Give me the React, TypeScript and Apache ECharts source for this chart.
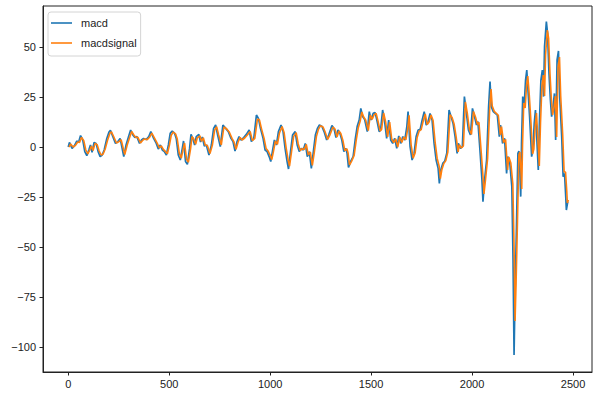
import React, { useEffect, useRef } from "react";
import * as echarts from "echarts";

const xTicks = [0, 500, 1000, 1500, 2000, 2500];
const yTicks = [-100, -75, -50, -25, 0, 25, 50];
const seriesNames = ["macd", "macdsignal"];

const macd: [number, number][] = [
  [0,0],[6,2.3],[19,-0.7],[31,0.7],[42,3],[51,2.3],[61,5.7],[72,3.5],[82,-2.3],[92,-4.3],
  [102,-1.5],[110,1],[118,-2.7],[128,2.3],[138,1.8],[148,-2.3],[158,-4.8],[168,-4],[178,-1.5],[191,4.3],
  [201,7.3],[209,8.3],[221,5.2],[234,1.8],[246,2.7],[257,4.3],[267,-0.7],[275,-4.8],[287,1.3],[299,5.2],
  [309,8.5],[320,6],[330,4.7],[340,5.2],[353,1.8],[363,3.5],[373,4.3],[386,3.7],[399,5.2],[409,7.7],
  [423,4.3],[436,1.8],[446,-1],[456,1],[466,-1.5],[476,-2.3],[486,-4],[496,1],[505,6.8],[515,8],
  [527,6.8],[535,4.3],[545,-4],[555,-6.5],[565,-0.7],[571,3],[581,-7.3],[590,-8.7],[601,-0.7],[608,6.3],
  [617,4.3],[626,1],[634,5.2],[647,6.3],[655,2.5],[664,5],[674,0.5],[684,1],[697,-4],[709,1],
  [720,9.3],[730,11],[740,6],[753,0.2],[766,11],[780,9.3],[793,7.7],[806,4.3],[816,2.7],[826,-2],
  [836,2.7],[846,5.2],[856,3.5],[869,4.7],[882,6.3],[896,8.5],[907,2.7],[919,4.3],[932,16],[942,14.3],
  [952,9.3],[965,4.3],[975,-1.5],[985,-2.3],[995,-4.8],[1003,-7.3],[1011,-2.3],[1021,3.5],[1031,1],[1041,7.7],
  [1054,11],[1064,7.7],[1074,-0.7],[1084,-7.3],[1091,-11],[1101,-2.3],[1111,6],[1124,7.7],[1134,1],[1144,-2.3],
  [1154,-0.7],[1164,-1.5],[1174,1.8],[1184,-4.8],[1194,-2.3],[1204,-10.7],[1214,-2.3],[1224,6],[1234,9.3],[1244,11],
  [1257,10.2],[1267,7.7],[1280,3.5],[1290,6],[1306,10.7],[1316,9.3],[1326,4.7],[1336,8.5],[1345,7],[1355,3.5],
  [1365,-2.3],[1375,-0.7],[1381,-3.2],[1388,-10.2],[1398,-7.3],[1411,-4.8],[1421,3.5],[1431,10.2],[1441,13.5],[1449,19.3],
  [1458,15.2],[1468,13.8],[1481,7.7],[1491,17.7],[1500,13.5],[1510,16.8],[1520,17.2],[1530,12.7],[1540,7.7],[1547,8.5],
  [1557,18.5],[1567,12.7],[1577,4.3],[1587,13.5],[1597,3.5],[1607,1.8],[1617,4.3],[1627,-0.7],[1637,5.5],[1647,1.8],
  [1657,5.2],[1667,3.5],[1677,10.2],[1683,17.7],[1693,0.2],[1703,-6.5],[1713,-3.2],[1723,5.2],[1733,8.5],[1743,8.8],
  [1753,13.5],[1763,17.7],[1773,11],[1782,12.7],[1792,16.8],[1802,13.5],[1812,1.8],[1822,-6.5],[1832,-10.7],[1838,-18.2],
  [1845,-11.5],[1855,-8.2],[1865,-7],[1875,-3],[1886,18.5],[1896,15.2],[1906,11.8],[1916,5.2],[1926,-3.2],[1932,1.8],
  [1942,-0.7],[1952,0.2],[1962,25.2],[1972,16.8],[1982,8.5],[1992,6],[2002,19.3],[2012,15.2],[2022,11],[2029,12.7],
  [2039,-1.5],[2049,-16.5],[2054,-27.3],[2062,-16.5],[2072,-6.5],[2082,20.2],[2089,32.7],[2095,20.2],[2105,17.7],[2115,16.8],
  [2125,16],[2135,5.2],[2141,11],[2151,1.8],[2161,4.3],[2171,-13.2],[2177,-4.8],[2187,-8.2],[2197,-19.8],[2203,-56.5],
  [2208,-104],[2213,-73],[2220,-39.8],[2227,-3.2],[2232,-2],[2236,-10],[2241,-24.8],[2245,1.8],[2251,25.2],[2258,20.2],
  [2265,33.5],[2271,38.5],[2278,26.8],[2285,15.2],[2295,-4.8],[2301,-1.5],[2308,11.8],[2314,18.5],[2321,3.5],[2328,-11.5],
  [2334,13.5],[2341,33.5],[2348,38.5],[2354,25.2],[2359,50.2],[2368,62.7],[2374,56.8],[2381,36.8],[2388,23.5],[2394,15.2],
  [2401,20.2],[2408,26.8],[2414,3.5],[2421,43.5],[2428,48],[2434,25.2],[2444,5.2],[2451,-14.8],[2458,-13.2],[2464,-24.8],
  [2467,-31.5],[2474,-27.3]
];

const macdSignal: [number, number][] = [
  [4,0],[12,1.5],[24,0],[36,0.8],[47,2.5],[56,2.3],[66,4.8],[77,3.2],[87,-1.5],[97,-3.5],
  [107,-1.5],[115,0.5],[123,-1.8],[133,1.8],[143,1.2],[153,-2],[163,-4],[173,-3.5],[183,-1],[196,3.8],
  [206,6.8],[214,7.6],[226,5],[239,2],[251,2.7],[262,3.6],[272,-0.5],[280,-3.8],[292,1],[304,4.8],
  [314,7.8],[325,6],[335,4.8],[345,4.8],[358,2],[368,3.3],[378,4],[391,3.7],[404,5],[414,7],
  [428,4.3],[441,1.8],[451,-0.5],[461,0.6],[471,-1.2],[481,-2.2],[491,-3.4],[501,0.8],[510,5.8],[520,7.5],
  [532,6.5],[540,4],[550,-3.2],[560,-5.6],[570,-0.6],[576,2],[586,-6.2],[595,-7.6],[606,-0.8],[613,5.2],
  [622,4],[631,1.4],[639,4.6],[652,5.6],[660,2.8],[669,4.6],[679,0.9],[689,0.8],[702,-3.3],[714,1],
  [725,8.4],[735,10.2],[745,6],[758,1],[771,10],[785,9],[798,7.4],[811,4.3],[821,2.5],[831,-1.2],
  [841,2.4],[851,4.8],[861,3.5],[874,4.5],[887,6],[901,7.8],[912,3.2],[924,4.3],[937,14],[947,13.5],
  [957,9.2],[970,4.3],[980,-0.8],[990,-2],[1000,-4.2],[1008,-6.3],[1016,-2.4],[1026,3],[1036,1.3],[1046,7],
  [1059,10.2],[1069,7.3],[1079,-0.3],[1089,-6.4],[1096,-9.6],[1106,-2.3],[1116,5.2],[1129,7.2],[1139,1.5],[1149,-1.8],
  [1159,-0.8],[1169,-1.2],[1179,1.3],[1189,-4],[1199,-2.5],[1209,-9.2],[1219,-2.4],[1229,5.2],[1239,8.8],[1249,10.6],
  [1262,10],[1272,7.6],[1285,3.8],[1295,5.8],[1311,10],[1321,9],[1331,5],[1341,8],[1350,6.8],[1360,3.4],
  [1370,-1.8],[1380,-0.9],[1386,-3],[1393,-9],[1403,-7.2],[1416,-4.2],[1426,3.2],[1436,9.5],[1446,13],[1454,17.5],
  [1463,15],[1473,13.5],[1486,8.2],[1496,16],[1505,13.8],[1515,16.2],[1525,16.8],[1535,12.6],[1545,8],[1552,8.8],
  [1562,17],[1572,12.5],[1582,5],[1592,12.4],[1602,4],[1612,2.2],[1622,4],[1632,0],[1642,5],[1652,2.2],
  [1662,5],[1672,3.6],[1682,9.5],[1688,15.8],[1698,1.2],[1708,-5.6],[1718,-3],[1728,4.8],[1738,8],[1748,8.7],
  [1758,13],[1768,16.5],[1778,11.2],[1787,12.5],[1797,16],[1807,13.2],[1817,2.5],[1827,-5.6],[1837,-9.6],[1843,-15.8],
  [1850,-11.5],[1860,-8.3],[1870,-6.8],[1880,-2.5],[1891,16.2],[1901,14.8],[1911,11.5],[1921,5.2],[1931,-2.4],[1937,1.2],
  [1947,-0.5],[1957,0.5],[1967,22.5],[1977,16.5],[1987,8.6],[1997,6.3],[2007,17.8],[2017,15],[2027,11.2],[2034,12.4],
  [2044,-0.8],[2054,-14.5],[2059,-23.5],[2067,-16],[2077,-5.8],[2087,18.5],[2094,29],[2100,20.5],[2110,17.8],[2120,16.8],
  [2130,15.8],[2140,6],[2146,10.2],[2156,2.2],[2166,3.8],[2176,-11.5],[2182,-5],[2192,-8],[2202,-18.5],[2208,-50],
  [2213,-87],[2218,-68],[2225,-37],[2232,-4],[2237,-2.5],[2241,-9],[2246,-21],[2250,1],[2256,22],[2263,19.5],
  [2270,31],[2276,35.5],[2283,26.5],[2290,15.5],[2300,-3.5],[2306,-1],[2313,10.8],[2319,17],[2326,4],[2333,-9.5],
  [2339,12],[2346,30.5],[2353,36],[2359,25.5],[2364,46],[2373,58.5],[2379,54.5],[2386,36.5],[2393,23.5],[2399,16],
  [2406,19.8],[2413,25.5],[2419,5],[2426,40],[2433,45],[2439,25.5],[2449,6],[2456,-12.5],[2463,-12.5],[2469,-22],
  [2472,-28],[2477,-26.5]
];

const FONT = "'Liberation Sans', 'DejaVu Sans', sans-serif";
const AXIS_COLOR = "#222";

export default function App() {
  const ref = useRef<HTMLDivElement>(null);

  useEffect(() => {
    if (!ref.current) return;
    const chart = echarts.init(ref.current, undefined, { renderer: "svg" });
    const fmt = (v: number) => String(v).replace("-", "\u2212");
    chart.setOption({
      animation: false,
      backgroundColor: "#ffffff",
      grid: {
        left: 43,
        right: 1,
        top: 6,
        bottom: 26,
        show: true,
        borderColor: AXIS_COLOR,
        borderWidth: 1,
        backgroundColor: "transparent",
      },
      legend: {
        data: seriesNames,
        orient: "vertical",
        left: 48,
        top: 12,
        icon: "rect",
        itemWidth: 21,
        itemHeight: 1.6,
        itemGap: 6,
        padding: [4, 4, 6, 3],
        backgroundColor: "rgba(255,255,255,0.8)",
        borderColor: "#d4d4d4",
        borderWidth: 1,
        borderRadius: 3,
        align: "left",
        textStyle: {
          fontFamily: FONT,
          fontSize: 11,
          lineHeight: 14,
          color: "#222",
          padding: [0, 0, 0, 4],
        },
      },
      xAxis: {
        type: "value",
        min: -125,
        max: 2594,
        axisLine: { show: true, onZero: false, lineStyle: { color: AXIS_COLOR, width: 1 } },
        axisTick: { show: true, length: 3.5, lineStyle: { color: AXIS_COLOR }, customValues: xTicks },
        axisLabel: {
          customValues: xTicks,
          fontFamily: FONT,
          fontSize: 11,
          color: "#222",
          margin: 6,
          formatter: fmt,
        },
        splitLine: { show: false },
      },
      yAxis: {
        type: "value",
        min: -112.5,
        max: 70.5,
        axisLine: { show: true, onZero: false, lineStyle: { color: AXIS_COLOR, width: 1 } },
        axisTick: { show: true, length: 3.5, lineStyle: { color: AXIS_COLOR }, customValues: yTicks },
        axisLabel: {
          customValues: yTicks,
          fontFamily: FONT,
          fontSize: 11,
          color: "#222",
          margin: 7,
          formatter: fmt,
        },
        splitLine: { show: false },
      },
      series: [
        {
          name: seriesNames[0],
          type: "line",
          data: macd,
          showSymbol: false,
          symbol: "none",
          color: "#1f77b4",
          lineStyle: { width: 1.7, color: "#1f77b4" },
          z: 2,
        },
        {
          name: seriesNames[1],
          type: "line",
          data: macdSignal,
          showSymbol: false,
          symbol: "none",
          color: "#ff7f0e",
          lineStyle: { width: 1.6, color: "#ff7f0e" },
          z: 3,
        },
      ],
    });
    return () => chart.dispose();
  }, []);

  return <div ref={ref} style={{ width: 593, height: 398, position: "absolute", left: 0, top: 0 }} />;
}
